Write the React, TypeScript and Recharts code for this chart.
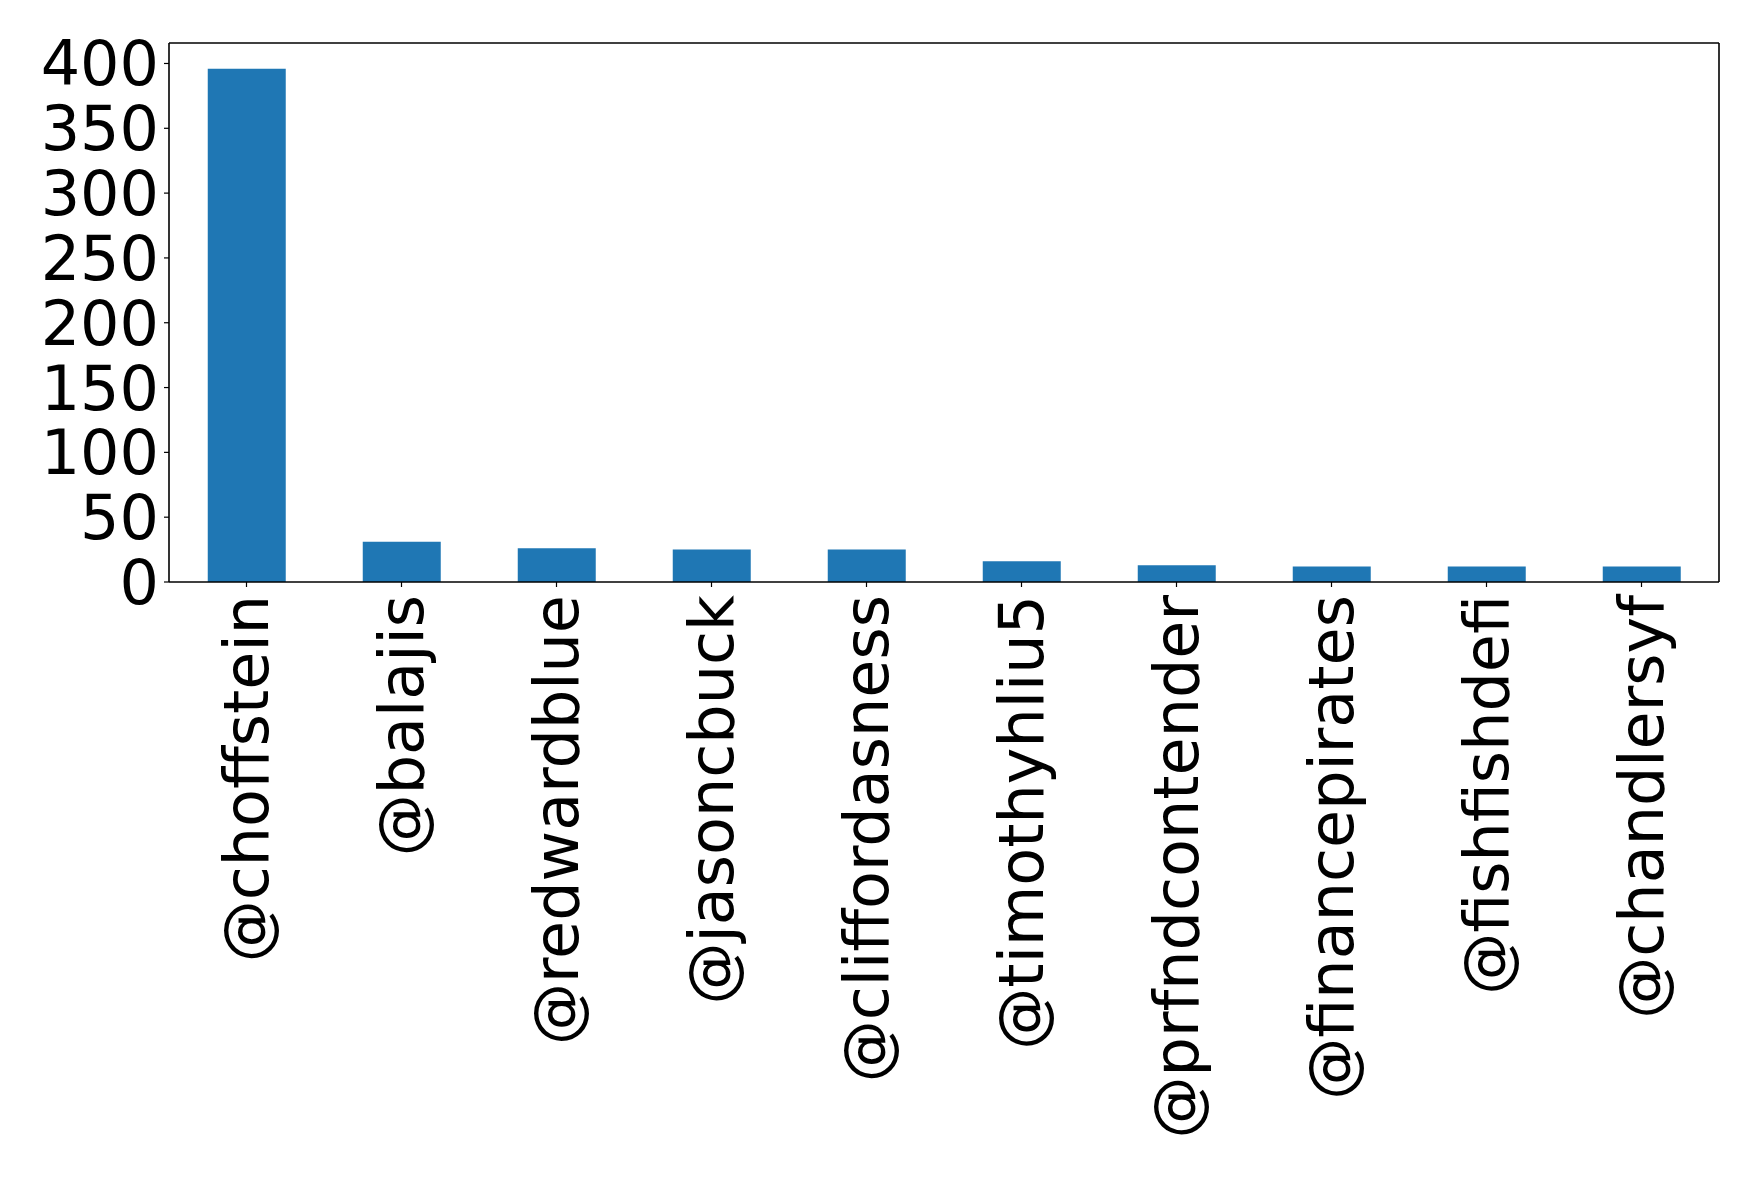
import React from "react";
import { BarChart, Bar, XAxis, YAxis, CartesianGrid } from "recharts";

const handles = [
  "@choffstein",
  "@balajis",
  "@redwardblue",
  "@jasoncbuck",
  "@cliffordasness",
  "@timothyhliu5",
  "@prfndcontender",
  "@financepirates",
  "@fishfishdefi",
  "@chandlersyf",
];
const counts = [396, 31, 26, 25, 25, 16, 13, 12, 12, 12];
const yTicks = [0, 50, 100, 150, 200, 250, 300, 350, 400];

const data = handles.map((handle, i) => ({ handle, count: counts[i] }));

const FONT = "DejaVu Sans";
const FONT_SIZE = 62;

const RotatedTick = ({ x, y, payload }: any) => (
  <text
    x={x}
    y={y}
    transform={`rotate(-90, ${x}, ${y})`}
    textAnchor="end"
    dominantBaseline="central"
    fontSize={FONT_SIZE}
    fontFamily={FONT}
    fill="#000"
  >
    {payload.value}
  </text>
);

export default function App() {
  return (
    <div style={{ position: "absolute", left: 0, top: 0, background: "#fff" }}>
      <BarChart
        width={1759}
        height={1179}
        data={data}
        margin={{ top: 43, right: 40, left: 0, bottom: 0 }}
        barCategoryGap="25%"
      >
        {/* top and right spines of the frame */}
        <CartesianGrid
          stroke="#000"
          strokeWidth={1.6}
          horizontalCoordinatesGenerator={({ offset }: any) => [offset.top]}
          verticalCoordinatesGenerator={({ offset }: any) => [offset.left + offset.width]}
        />
        <XAxis
          dataKey="handle"
          height={597}
          interval={0}
          tick={<RotatedTick />}
          tickSize={5}
          tickMargin={8}
          axisLine={{ stroke: "#000", strokeWidth: 1.6 }}
          tickLine={{ stroke: "#000", strokeWidth: 1.2 }}
        />
        <YAxis
          width={169}
          domain={[0, 415.8]}
          ticks={yTicks}
          interval={0}
          tickSize={5}
          tickMargin={5}
          tick={{ fontSize: FONT_SIZE, fontFamily: FONT, fill: "#000" }}
          axisLine={{ stroke: "#000", strokeWidth: 1.6 }}
          tickLine={{ stroke: "#000", strokeWidth: 1.2 }}
        />
        <Bar dataKey="count" fill="#1f77b4" isAnimationActive={false} />
      </BarChart>
    </div>
  );
}
